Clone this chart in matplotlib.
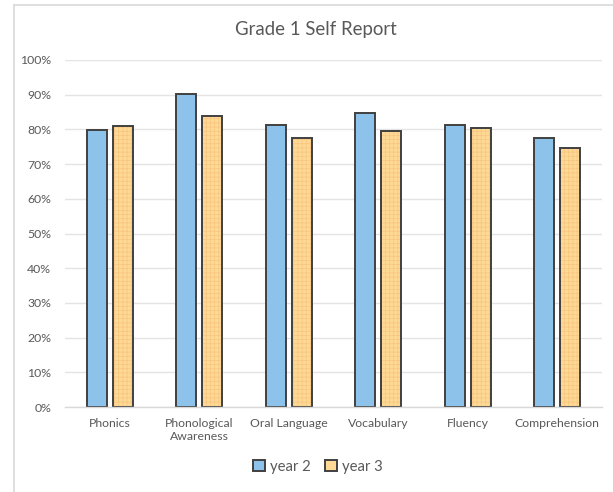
import matplotlib.pyplot as plt
import numpy as np
from matplotlib.lines import Line2D
from matplotlib.patches import Patch

categories = ["Phonics", "Phonological\nAwareness", "Oral Language", "Vocabulary",
              "Fluency", "Comprehension"]
year2 = [0.798, 0.902, 0.813, 0.847, 0.813, 0.775]
year3 = [0.810, 0.839, 0.775, 0.795, 0.804, 0.746]
yticks = [0.0, 0.1, 0.2, 0.3, 0.4, 0.5, 0.6, 0.7, 0.8, 0.9, 1.0]
ytick_labels = ["0%", "10%", "20%", "30%", "40%", "50%", "60%", "70%", "80%", "90%", "100%"]

blue = "#8DC3EA"
orange = "#FDD995"
hatch_col = "#F7C580"
edge = "#404040"
txt = "#595959"

plt.rcParams['font.family'] = ['Lato', 'DejaVu Sans']
plt.rcParams['hatch.linewidth'] = 0.5

fig = plt.figure(figsize=(6.13, 4.92), dpi=100)
ax = fig.add_axes([65 / 613, 1 - 407 / 492, 537 / 613, 347 / 492])

x = np.arange(len(categories))
w = 0.225
off = 0.145
ax.bar(x - off, year2, w, color=blue, edgecolor=edge, linewidth=1.4, zorder=3)
ax.bar(x + off, year3, w, color=orange, edgecolor=hatch_col, hatch='++++',
       linewidth=0, zorder=3)
ax.bar(x + off, year3, w, color='none', edgecolor=edge, linewidth=1.4, zorder=4)

ax.set_xlim(-0.5, len(categories) - 0.5)
ax.set_ylim(0, 1.0)
ax.set_yticks(yticks)
ax.set_yticklabels(ytick_labels)
ax.set_xticks(x)
ax.set_xticklabels(categories)
ax.tick_params(axis='both', length=0, labelsize=8.8, labelcolor=txt)
ax.tick_params(axis='x', pad=8)
ax.tick_params(axis='y', pad=10)
ax.grid(axis='y', color='#E4E4E4', linewidth=1, zorder=0)
for s in ['top', 'right', 'left']:
    ax.spines[s].set_visible(False)
ax.spines['bottom'].set_color('#D9D9D9')
ax.spines['bottom'].set_linewidth(1)
ax.spines['bottom'].set_zorder(5)

fig.text(316 / 613, 1 - 30 / 492, "Grade 1 Self Report", ha='center', va='center',
         fontsize=13.4, color=txt)

handles = [Patch(facecolor=blue, edgecolor=edge, linewidth=1.4, label="year 2"),
           Patch(facecolor=orange, edgecolor=edge, linewidth=1.4, label="year 3")]
fig.legend(handles=handles, loc='center', bbox_to_anchor=(318 / 613, 1 - 467 / 492),
           ncol=2, frameon=False, fontsize=10.7, labelcolor=txt, handlelength=0.75,
           handleheight=0.75, handletextpad=0.35, columnspacing=1.0)

# chart frame, only left and top edges visible in the crop
fig.add_artist(Line2D([14 / 613, 14 / 613], [0, 1 - 5 / 492], color='#D9D9D9', linewidth=1.2))
fig.add_artist(Line2D([14 / 613, 1], [1 - 5 / 492, 1 - 5 / 492], color='#D9D9D9', linewidth=1.2))

fig.savefig("out.png", dpi=100)
